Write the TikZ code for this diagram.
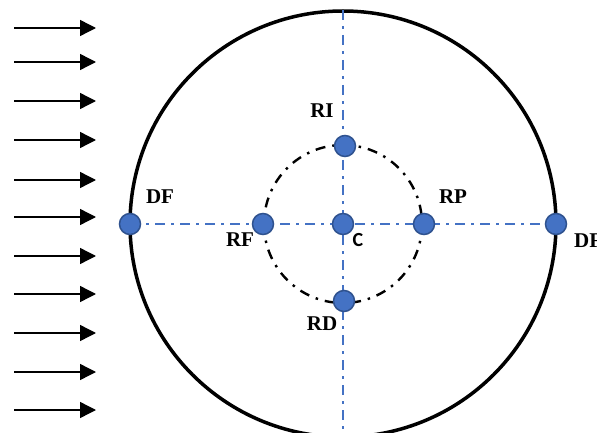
\documentclass[tikz,border=0pt]{standalone}
\usepackage{fontspec}
\setmainfont{Liberation Serif}
\newfontfamily\labelserif{Liberation Serif}[BoldFont={Liberation Serif Bold}]
\newfontfamily\labelsans{Carlito}
\usetikzlibrary{arrows.meta}
\definecolor{ptfill}{HTML}{4472C4}
\definecolor{ptedge}{HTML}{2F528F}
\tikzset{
  pt/.style={circle, fill=ptfill, draw=ptedge, line width=1.5pt, minimum size=21pt, inner sep=0pt},
  lbl/.style={font=\labelserif\fontsize{21}{24}\selectfont\bfseries, inner sep=0pt},
  flow/.style={line width=1.4pt, -{Triangle[length=16pt, width=16pt]}},
  axis/.style={draw=ptfill, line width=2.4pt, dash pattern=on 10pt off 6pt on 3pt off 6pt},
  orbit/.style={draw=black, line width=2.4pt, dash pattern=on 10pt off 7pt on 2.5pt off 7pt}
}
\begin{document}
\begin{tikzpicture}[x=1pt, y=-1pt]
\useasboundingbox (0,0) rectangle (597,433);
% outer boundary
\coordinate (O) at (343,224);
\draw[line width=3.5pt] (O) circle[radius=213];
% axes
\coordinate (top) at (343,10);
\coordinate (bot) at (343,440);
\path[axis] (130,224) -- (556,224);
\path[axis] (top) -- (bot);
% inner circle
\path[orbit] (O) circle[radius=79];
% incoming flow arrows
\foreach \y [count=\i] in {28,62,101,140,180,217,256,294,333,372,410} {
  \coordinate (s\i) at (14,\y);
  \coordinate (e\i) at (96,\y);
  \draw[flow] (s\i) -- (e\i);
}
% points
\node[pt] (DFl) at (130,224) {};
\node[pt] (DFr) at (556,224) {};
\node[pt] (RF) at (263,224) {};
\node[pt] (RP) at (424,224) {};
\node[pt] (C) at (343,224) {};
\node[pt] (RI) at (345,146) {};
\node[pt] (RD) at (344,301) {};
% labels
\node[lbl] (tDF) at (160,197) {DF};
\node[lbl] (tRF) at (240,240) {RF};
\node[lbl] (tRI) at (322,111) {RI};
\node[lbl] (tRP) at (453,197) {RP};
\node[lbl] (tRD) at (322,324) {RD};
\node[inner sep=0pt, font=\labelsans\fontsize{20}{24}\selectfont\bfseries] (tC) at (358,240) {C};
\node[lbl, anchor=west] (tDFr) at (574,241) {DF};
\end{tikzpicture}
\end{document}
